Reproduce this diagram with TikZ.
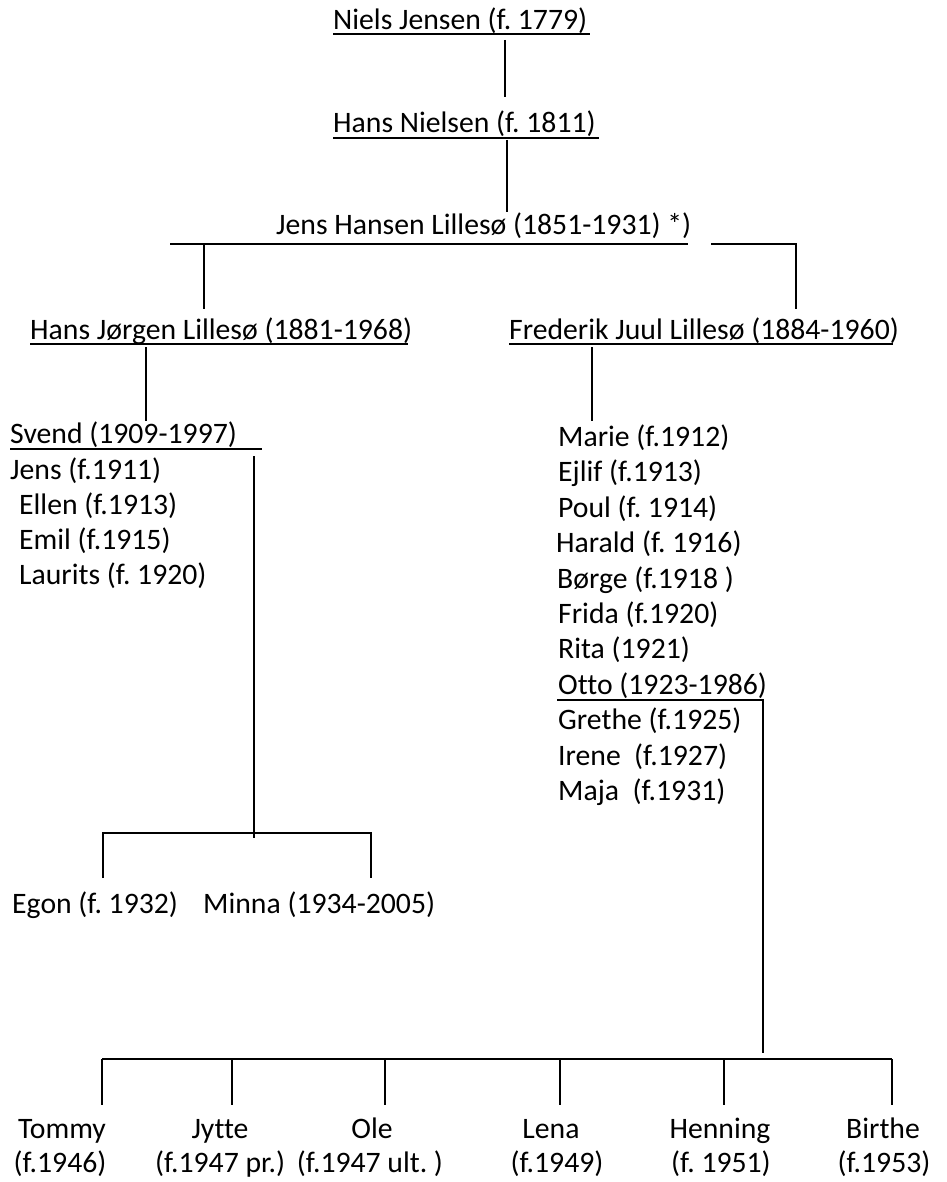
\documentclass[tikz,border=0pt]{standalone}
\usepackage{fontspec}
\setmainfont{Carlito}[Ligatures=NoCommon]
\frenchspacing
\begin{document}
\begin{tikzpicture}[x=1pt,y=-1pt,
  lbl/.style={inner sep=0pt,anchor=base west,font=\fontsize{29.7}{36}\selectfont},
  clbl/.style={inner sep=0pt,anchor=base,font=\fontsize{29.7}{36}\selectfont},
  ln/.style={line width=1.3pt,black}]
\path[use as bounding box,fill=white] (0,0) rectangle (946,1182);
% generation 1-3
\node[lbl] (niels) at (333,30) {Niels Jensen (f. 1779)};
\node[lbl] (hans) at (333,133) {Hans Nielsen (f. 1811)};
\node[lbl] (jens) at (276,235) {Jens Hansen Lilles\o{} (1851-1931) *)};
\draw[ln] (333,34) -- (590,34);
\draw[ln] (333,138) -- (599,138);
\coordinate (n1) at (505,40); \coordinate (n2) at (505,97);
\draw[ln] (n1) -- (n2);
\coordinate (h1) at (507,140); \coordinate (h2) at (507,212);
\draw[ln] (h1) -- (h2);
\coordinate (jl) at (170,244); \coordinate (jm) at (688,244);
\coordinate (jr1) at (711,244); \coordinate (jr2) at (796,244);
\coordinate (jlb) at (204,244); \coordinate (jld) at (204,309);
\coordinate (jrd) at (796,309);
\draw[ln] (jl) -- (jm);
\draw[ln] (jr1) -- (jr2) -- (jrd);
\draw[ln] (jlb) -- (jld);
% generation 4
\node[lbl] (hj) at (30,339) {Hans J\o{}rgen Lilles\o{} (1881-1968)};
\node[lbl] (fj) at (509,339) {Frederik Juul Lilles\o{} (1884-1960)};
\draw[ln] (30,344) -- (408,344);
\draw[ln] (509,344) -- (893,344);
\draw[ln] (146,347) -- (146,421);
\draw[ln] (592,347) -- (592,421);
% children of Hans Jorgen
\node[lbl] (svend) at (10,443) {Svend (1909-1997)};
\draw[ln] (10,449) -- (262,449);
\node[lbl] (jens2) at (10,479) {Jens (f.1911)};
\node[lbl] (ellen) at (19,514) {Ellen (f.1913)};
\node[lbl] (emil) at (19,549) {Emil (f.1915)};
\node[lbl] (laurits) at (19,584) {Laurits (f. 1920)};
\draw[ln] (254,456) -- (254,838);
\draw[ln] (103,878) -- (103,833) -- (371,833) -- (371,878);
\node[lbl] (egon) at (12,913) {Egon (f. 1932)};
\node[lbl] (minna) at (203,913) {Minna (1934-2005)};
% children of Frederik
\node[lbl] (marie) at (558,446.5) {Marie (f.1912)};
\node[lbl] (ejlif) at (558,481.9) {Ejlif (f.1913)};
\node[lbl] (poul) at (558,517.3) {Poul (f. 1914)};
\node[lbl] (harald) at (556,552.7) {Harald (f. 1916)};
\node[lbl] (borge) at (557,588.1) {B\o{}rge (f.1918 )};
\node[lbl] (frida) at (558,623.5) {Frida (f.1920)};
\node[lbl] (rita) at (558,658.9) {Rita (1921)};
\node[lbl] (otto) at (558,694.3) {Otto (1923-1986)};
\node[lbl] (grethe) at (558,729.7) {Grethe (f.1925)};
\node[lbl] (irene) at (558,765.1) {Irene\ \ (f.1927)};
\node[lbl] (maja) at (558,800.5) {Maja\ \ (f.1931)};
\draw[ln] (557,700) -- (764,700);
\draw[ln] (763,700) -- (763,1053);
% children of Otto
\draw[ln] (102,1059) -- (892,1059);
\foreach \x in {102,232,385,560,724,892} \draw[ln] (\x,1059) -- (\x,1105);
\node[clbl] (tommy) at (62,1138) {Tommy};
\node[clbl] (tommyd) at (60,1172) {(f.1946)};
\node[clbl] (jytte) at (220,1138) {Jytte};
\node[clbl] (jytted) at (220,1172) {(f.1947 pr.)};
\node[clbl] (ole) at (372,1138) {Ole};
\node[clbl] (oled) at (370,1172) {(f.1947 ult. )};
\node[clbl] (lena) at (551,1138) {Lena};
\node[clbl] (lenad) at (557,1172) {(f.1949)};
\node[clbl] (henning) at (720,1138) {Henning};
\node[clbl] (henningd) at (721,1172) {(f. 1951)};
\node[clbl] (birthe) at (883,1138) {Birthe};
\node[clbl] (birthed) at (884,1172) {(f.1953)};
\end{tikzpicture}
\end{document}
